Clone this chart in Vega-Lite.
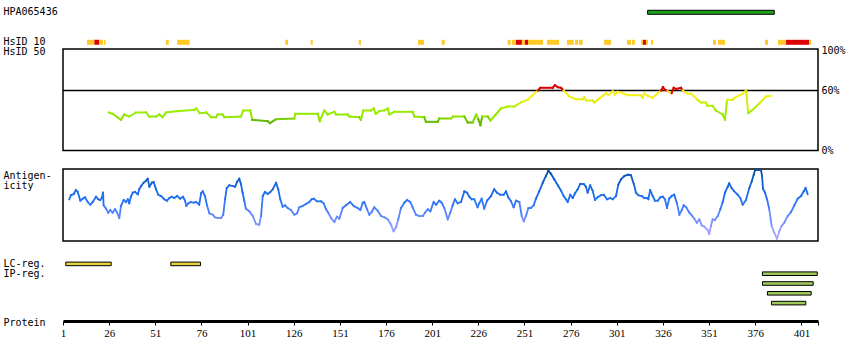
{
  "$schema": "https://vega.github.io/schema/vega-lite/v6.json",
  "padding": {"left": 2, "top": 2, "right": 5, "bottom": 5},
  "background": "white",
  "config": {
    "view": {"stroke": "black", "strokeWidth": 1.5},
    "axis": {"labelFont": "DejaVu Sans Mono", "titleFont": "DejaVu Sans Mono", "labelFontSize": 10, "titleFontSize": 10, "titleFontWeight": "normal", "labelColor": "black", "titleColor": "black", "grid": false}
  },
  "bounds": "flush",
  "spacing": 0,
  "vconcat": [
    {
      "width": 755,
      "height": 46.5,
      "view": {"stroke": null},
      "data": {"values": [
        {"lane": "HPA065436", "kind": "HPA", "start": 317.7, "end": 386.3},
        {"lane": "HsID 10", "kind": "low", "start": 14.0, "end": 18.0},
        {"lane": "HsID 10", "kind": "high", "start": 18.0, "end": 20.5},
        {"lane": "HsID 10", "kind": "low", "start": 20.5, "end": 22.7},
        {"lane": "HsID 10", "kind": "low", "start": 23.2, "end": 24.1},
        {"lane": "HsID 10", "kind": "low", "start": 56.8, "end": 58.3},
        {"lane": "HsID 10", "kind": "low", "start": 62.8, "end": 69.6},
        {"lane": "HsID 10", "kind": "low", "start": 121.4, "end": 122.9},
        {"lane": "HsID 10", "kind": "low", "start": 135.2, "end": 136.3},
        {"lane": "HsID 10", "kind": "low", "start": 161.2, "end": 162.4},
        {"lane": "HsID 10", "kind": "low", "start": 193.3, "end": 196.6},
        {"lane": "HsID 10", "kind": "low", "start": 206.1, "end": 207.8},
        {"lane": "HsID 10", "kind": "low", "start": 241.9, "end": 243.5},
        {"lane": "HsID 10", "kind": "low", "start": 244.2, "end": 246.4},
        {"lane": "HsID 10", "kind": "high", "start": 246.4, "end": 249.6},
        {"lane": "HsID 10", "kind": "low", "start": 249.6, "end": 251.2},
        {"lane": "HsID 10", "kind": "high", "start": 251.2, "end": 252.9},
        {"lane": "HsID 10", "kind": "low", "start": 252.9, "end": 261.0},
        {"lane": "HsID 10", "kind": "low", "start": 263.2, "end": 269.7},
        {"lane": "HsID 10", "kind": "low", "start": 274.0, "end": 277.7},
        {"lane": "HsID 10", "kind": "low", "start": 278.4, "end": 280.0},
        {"lane": "HsID 10", "kind": "low", "start": 280.5, "end": 282.5},
        {"lane": "HsID 10", "kind": "low", "start": 294.1, "end": 297.9},
        {"lane": "HsID 10", "kind": "low", "start": 306.5, "end": 308.7},
        {"lane": "HsID 10", "kind": "low", "start": 309.2, "end": 310.8},
        {"lane": "HsID 10", "kind": "low", "start": 314.1, "end": 315.2},
        {"lane": "HsID 10", "kind": "high", "start": 315.2, "end": 316.8},
        {"lane": "HsID 10", "kind": "low", "start": 316.8, "end": 317.9},
        {"lane": "HsID 10", "kind": "low", "start": 319.5, "end": 320.6},
        {"lane": "HsID 10", "kind": "low", "start": 353.1, "end": 354.7},
        {"lane": "HsID 10", "kind": "low", "start": 355.8, "end": 359.6},
        {"lane": "HsID 10", "kind": "low", "start": 381.3, "end": 382.9},
        {"lane": "HsID 10", "kind": "low", "start": 388.3, "end": 392.7},
        {"lane": "HsID 10", "kind": "high", "start": 392.7, "end": 405.2},
        {"lane": "HsID 10", "kind": "low", "start": 405.2, "end": 406.2}
      ]},
      "encoding": {
        "x": {"field": "start", "type": "quantitative", "scale": {"domain": [1, 410], "nice": false, "zero": false}, "axis": null},
        "x2": {"field": "end"},
        "y": {"field": "lane", "type": "nominal", "sort": null,
              "scale": {"domain": ["HPA065436", "HsID 10"], "paddingInner": 0.6, "paddingOuter": 0.075, "align": 0.956, "round": false},
              "axis": {"title": null, "orient": "left", "ticks": false, "tickSize": 0, "domain": false, "labelAlign": "left", "labelPadding": 60, "labelBaseline": "middle"}}
      },
      "layer": [
        {
          "transform": [{"filter": "datum.kind == 'HPA'"}],
          "mark": {"type": "bar", "height": 4, "stroke": "black", "strokeWidth": 1, "fill": "#1aa31a"}
        },
        {
          "transform": [{"filter": "datum.kind != 'HPA'"}],
          "mark": {"type": "bar", "height": 5},
          "encoding": {
            "color": {"field": "kind", "type": "nominal", "scale": {"domain": ["low", "high"], "range": ["#ffc926", "#dd0000"]}, "legend": null}
          }
        }
      ]
    },
    {
      "width": 755,
      "height": 101.5,
      "resolve": {"axis": {"y": "independent"}},
      "layer": [
        {
          "data": {"values": [{}]},
          "mark": {"type": "rule", "color": "black", "strokeWidth": 1.3},
          "encoding": {
            "y": {"datum": 60, "type": "quantitative", "scale": {"domain": [0, 101.5], "nice": false, "zero": false},
                  "axis": {"orient": "right", "values": [0, 60, 100], "labelExpr": "datum.value + '%'", "ticks": false, "tickSize": 0, "domain": false, "labelPadding": 3, "title": null, "labelBaseline": "middle", "labelFlush": false, "labelOverlap": false}}
          }
        },
        {
          "data": {"values": [
            {"r":25.8,"v":38},{"r":27.9,"v":36.7},{"r":32.4,"v":30.7},{"r":34.2,"v":36},{"r":36.9,"v":34},{"r":40.5,"v":38},{"r":46.0,"v":38},{"r":47.7,"v":34},{"r":51.4,"v":34},{"r":53.2,"v":36},{"r":55.0,"v":33.3},{"r":56.8,"v":38},{"r":63.1,"v":39.3},{"r":72.1,"v":40.7},{"r":73.2,"v":42},{"r":75.1,"v":37.3},{"r":78.6,"v":38},{"r":81.2,"v":33.3},{"r":83.9,"v":33.3},{"r":84.8,"v":36},{"r":87.5,"v":36},{"r":88.4,"v":33.3},{"r":97.4,"v":34},{"r":98.7,"v":40},{"r":102.5,"v":40},{"r":103.5,"v":30.7},{"r":111.9,"v":29.3},{"r":113.1,"v":27.3},{"r":116.4,"v":31.3},{"r":126.3,"v":32},{"r":126.8,"v":36.7},{"r":139.0,"v":36.7},{"r":140.1,"v":29.3},{"r":142.5,"v":40},{"r":144.4,"v":36},{"r":148.0,"v":38.7},{"r":148.9,"v":36},{"r":155.2,"v":36},{"r":156.1,"v":34},{"r":161.5,"v":33.3},{"r":162.4,"v":30.7},{"r":163.7,"v":40},{"r":167.8,"v":40},{"r":169.3,"v":42},{"r":170.4,"v":36.7},{"r":172.3,"v":39.3},{"r":175.1,"v":40},{"r":176.9,"v":42},{"r":177.8,"v":36},{"r":180.5,"v":38.7},{"r":190.4,"v":38.7},{"r":191.3,"v":34},{"r":196.7,"v":33.3},{"r":197.6,"v":28.7},{"r":204.0,"v":28.7},{"r":204.8,"v":32},{"r":211.2,"v":32},{"r":212.3,"v":34},{"r":218.4,"v":34},{"r":220.2,"v":28},{"r":222.9,"v":28},{"r":224.9,"v":36},{"r":226.0,"v":31.3},{"r":227.1,"v":25.3},{"r":228.1,"v":34},{"r":231.1,"v":34},{"r":232.5,"v":30},{"r":238.3,"v":42},{"r":241.9,"v":44},{"r":245.5,"v":44},{"r":247.3,"v":46},{"r":249.1,"v":48},{"r":252.7,"v":50.7},{"r":258.2,"v":60},{"r":259.6,"v":62.7},{"r":266.3,"v":62.7},{"r":267.5,"v":65.3},{"r":269.0,"v":63.3},{"r":270.8,"v":62.7},{"r":272.2,"v":60},{"r":275.3,"v":54},{"r":278.9,"v":51.3},{"r":282.5,"v":51.3},{"r":283.4,"v":53.3},{"r":284.3,"v":50},{"r":287.9,"v":50},{"r":288.8,"v":48},{"r":291.5,"v":52},{"r":295.2,"v":57.3},{"r":296.6,"v":55.3},{"r":298.8,"v":59.3},{"r":300.0,"v":56},{"r":301.5,"v":58.7},{"r":304.2,"v":57.3},{"r":306.9,"v":55.3},{"r":314.1,"v":55.3},{"r":315.0,"v":52.7},{"r":315.9,"v":57.3},{"r":317.7,"v":54.7},{"r":320.4,"v":52.7},{"r":324.9,"v":60},{"r":326.0,"v":63.3},{"r":327.1,"v":60.7},{"r":328.6,"v":59.3},{"r":330.7,"v":57.3},{"r":331.8,"v":62.7},{"r":333.1,"v":61.5},{"r":335.8,"v":62.7},{"r":336.7,"v":60},{"r":339.4,"v":56.7},{"r":341.2,"v":56.7},{"r":344.8,"v":50.7},{"r":346.6,"v":48},{"r":349.3,"v":48},{"r":350.2,"v":44.7},{"r":352.9,"v":44.7},{"r":354.7,"v":40},{"r":358.4,"v":36},{"r":359.6,"v":30.7},{"r":360.7,"v":50},{"r":361.1,"v":50.7},{"r":363.8,"v":50.7},{"r":364.7,"v":52.7},{"r":369.2,"v":56.7},{"r":371.0,"v":60},{"r":372.2,"v":37.3},{"r":374.6,"v":40.7},{"r":379.1,"v":48.7},{"r":381.8,"v":54},{"r":384.2,"v":54.7}
          ]},
          "transform": [
            {"window": [{"op": "lag", "field": "r", "as": "pr"}, {"op": "lag", "field": "v", "as": "pv"}, {"op": "mean", "field": "v", "as": "m"}], "frame": [-1, 0], "sort": [{"field": "r"}]},
            {"filter": "datum.pr != null"}
          ],
          "mark": {"type": "rule", "strokeWidth": 2, "strokeCap": "square"},
          "encoding": {
            "x": {"field": "pr", "type": "quantitative", "scale": {"domain": [1, 410], "nice": false, "zero": false}, "axis": null},
            "x2": {"field": "r"},
            "y": {"field": "pv", "type": "quantitative", "scale": {"domain": [0, 101.5], "nice": false, "zero": false},
                  "axis": {"orient": "left", "labels": false, "ticks": false, "domain": false, "title": "HsID 50", "titleAngle": 0, "titleAlign": "left", "titleBaseline": "middle", "titleX": -60, "titleY": 2.7}},
            "y2": {"field": "v"},
            "color": {"field": "m", "type": "quantitative", "legend": null,
                      "scale": {"domain": [25, 30.5, 33, 40, 46, 52, 59.95, 60, 100], "range": ["#5cb000", "#66bb00", "#92e600", "#99ee00", "#bfee00", "#eeee11", "#ffee22", "#dd0000", "#dd0000"], "interpolate": "rgb"}}
          }
        }
      ]
    },
    {
      "width": 755,
      "height": 18,
      "view": {"stroke": null},
      "data": {"values": []},
      "mark": "point",
      "encoding": {}
    },
    {
      "width": 755,
      "height": 72,
      "data": {"values": [
        {"r":4.4,"a":41.7},{"r":5.3,"a":45.7},{"r":6.8,"a":47},{"r":8.0,"a":51},{"r":9.0,"a":49},{"r":10.4,"a":40.3},{"r":11.7,"a":42.3},{"r":12.9,"a":43.7},{"r":14.4,"a":39},{"r":15.8,"a":36.3},{"r":17.1,"a":39},{"r":18.9,"a":44.3},{"r":20.1,"a":41.7},{"r":21.2,"a":41},{"r":22.0,"a":43},{"r":22.7,"a":48.3},{"r":23.0,"a":35.7},{"r":24.3,"a":32.3},{"r":25.5,"a":28.3},{"r":26.6,"a":31},{"r":27.9,"a":28.3},{"r":29.2,"a":31.7},{"r":30.3,"a":28.3},{"r":31.5,"a":23},{"r":32.4,"a":35},{"r":33.9,"a":41},{"r":35.1,"a":39},{"r":36.1,"a":41.7},{"r":36.9,"a":37.7},{"r":37.8,"a":44.3},{"r":38.8,"a":48.3},{"r":40.0,"a":49},{"r":41.5,"a":46.7},{"r":42.3,"a":51.7},{"r":43.3,"a":55},{"r":44.7,"a":58.3},{"r":46.0,"a":60.3},{"r":46.9,"a":62.3},{"r":47.8,"a":54.3},{"r":49.1,"a":58.3},{"r":50.1,"a":59},{"r":51.4,"a":51.7},{"r":52.6,"a":46.3},{"r":54.1,"a":45},{"r":55.9,"a":41.7},{"r":57.3,"a":40.3},{"r":58.6,"a":43},{"r":59.9,"a":44.3},{"r":61.3,"a":43},{"r":62.8,"a":45},{"r":64.5,"a":42.3},{"r":66.0,"a":44.3},{"r":67.1,"a":40.3},{"r":67.8,"a":35},{"r":68.9,"a":37.7},{"r":70.3,"a":39},{"r":71.8,"a":38.3},{"r":73.0,"a":39},{"r":74.0,"a":37.7},{"r":74.8,"a":36.3},{"r":75.8,"a":47.7},{"r":76.7,"a":49.7},{"r":77.9,"a":45},{"r":79.0,"a":35.7},{"r":80.3,"a":27.7},{"r":82.1,"a":26.3},{"r":83.3,"a":23.7},{"r":84.8,"a":23},{"r":86.6,"a":23},{"r":87.8,"a":26.3},{"r":88.8,"a":41.7},{"r":89.7,"a":53},{"r":91.1,"a":55.7},{"r":92.9,"a":55},{"r":94.2,"a":54.3},{"r":95.3,"a":59},{"r":96.5,"a":62.3},{"r":97.4,"a":57},{"r":98.3,"a":48.3},{"r":99.2,"a":40.3},{"r":100.1,"a":32.3},{"r":101.9,"a":29.7},{"r":103.8,"a":25},{"r":105.6,"a":17},{"r":107.3,"a":16.3},{"r":108.3,"a":25},{"r":109.2,"a":45},{"r":110.4,"a":49},{"r":111.9,"a":47},{"r":113.3,"a":49},{"r":114.6,"a":51.7},{"r":116.4,"a":58.3},{"r":117.6,"a":51.7},{"r":118.7,"a":41.7},{"r":120.0,"a":34.3},{"r":121.3,"a":35.7},{"r":122.7,"a":33},{"r":124.5,"a":31},{"r":126.3,"a":26.3},{"r":127.8,"a":27.7},{"r":129.0,"a":33.7},{"r":130.8,"a":35},{"r":132.6,"a":37},{"r":134.4,"a":39},{"r":135.7,"a":41.7},{"r":136.8,"a":42.3},{"r":138.6,"a":39.7},{"r":140.8,"a":39.7},{"r":142.2,"a":37.7},{"r":143.5,"a":31.7},{"r":144.7,"a":28.3},{"r":146.2,"a":23},{"r":148.0,"a":19},{"r":149.4,"a":24.3},{"r":150.7,"a":22.3},{"r":152.5,"a":33},{"r":154.3,"a":35.7},{"r":156.6,"a":39},{"r":158.5,"a":35},{"r":160.6,"a":33},{"r":162.1,"a":31},{"r":163.4,"a":38.3},{"r":164.2,"a":39},{"r":165.7,"a":31.7},{"r":166.9,"a":26.3},{"r":168.2,"a":29},{"r":169.6,"a":33.7},{"r":171.5,"a":30.3},{"r":173.3,"a":25},{"r":175.1,"a":23.7},{"r":176.9,"a":21.7},{"r":178.7,"a":16.3},{"r":180.1,"a":9.7},{"r":181.4,"a":13.7},{"r":182.6,"a":21.7},{"r":184.1,"a":33},{"r":185.9,"a":38.3},{"r":187.4,"a":41},{"r":189.1,"a":39},{"r":190.4,"a":33.7},{"r":192.2,"a":26.3},{"r":194.0,"a":25},{"r":195.9,"a":25},{"r":197.1,"a":28.3},{"r":198.6,"a":31.7},{"r":200.0,"a":29.7},{"r":201.8,"a":39},{"r":203.1,"a":36.3},{"r":204.8,"a":40.3},{"r":206.1,"a":38.3},{"r":207.6,"a":33},{"r":209.4,"a":21.7},{"r":210.8,"a":28.3},{"r":212.1,"a":35.7},{"r":213.3,"a":41.7},{"r":214.8,"a":37.7},{"r":216.6,"a":39},{"r":218.4,"a":49.7},{"r":219.9,"a":48.3},{"r":221.1,"a":44.3},{"r":222.4,"a":41.7},{"r":223.8,"a":41.7},{"r":225.6,"a":33.7},{"r":226.5,"a":37.7},{"r":227.8,"a":42.3},{"r":229.2,"a":32.3},{"r":230.7,"a":40.3},{"r":232.9,"a":45},{"r":234.6,"a":51.7},{"r":236.1,"a":48.3},{"r":237.9,"a":46.3},{"r":239.7,"a":46.3},{"r":241.0,"a":49.7},{"r":242.2,"a":43.7},{"r":243.7,"a":39.7},{"r":245.1,"a":33.7},{"r":246.4,"a":40.3},{"r":248.2,"a":39},{"r":249.5,"a":25},{"r":250.6,"a":19.7},{"r":251.8,"a":25},{"r":253.1,"a":33},{"r":254.5,"a":33},{"r":256.0,"a":35.7},{"r":257.2,"a":42.3},{"r":259.0,"a":49.7},{"r":260.9,"a":58.3},{"r":262.6,"a":65},{"r":263.9,"a":70.3},{"r":265.4,"a":67},{"r":267.1,"a":61.7},{"r":269.3,"a":55},{"r":270.8,"a":50.3},{"r":272.2,"a":45},{"r":273.5,"a":41.7},{"r":274.4,"a":39},{"r":275.8,"a":46.3},{"r":277.1,"a":43},{"r":278.4,"a":47.7},{"r":279.8,"a":51.7},{"r":281.2,"a":57},{"r":283.1,"a":57},{"r":284.3,"a":54.3},{"r":285.2,"a":48.3},{"r":286.6,"a":55.7},{"r":287.9,"a":50.3},{"r":289.2,"a":41},{"r":290.6,"a":43.7},{"r":292.4,"a":45.7},{"r":293.9,"a":46.3},{"r":295.7,"a":41.7},{"r":297.5,"a":43},{"r":298.8,"a":41.7},{"r":300.6,"a":45},{"r":301.8,"a":56.3},{"r":303.3,"a":61.7},{"r":305.1,"a":65},{"r":306.9,"a":66.3},{"r":308.7,"a":65.7},{"r":310.2,"a":57},{"r":311.4,"a":48.3},{"r":312.7,"a":45.7},{"r":314.5,"a":45},{"r":315.9,"a":43},{"r":317.4,"a":43},{"r":318.1,"a":41.7},{"r":319.1,"a":51},{"r":320.4,"a":45},{"r":321.7,"a":40.3},{"r":323.2,"a":40.3},{"r":324.6,"a":43.7},{"r":325.9,"a":44.3},{"r":327.1,"a":41.7},{"r":328.2,"a":33},{"r":329.4,"a":42.3},{"r":330.7,"a":45},{"r":332.1,"a":46.3},{"r":333.6,"a":37.7},{"r":334.9,"a":26.3},{"r":336.2,"a":31},{"r":337.2,"a":35.7},{"r":338.6,"a":33.7},{"r":340.3,"a":28.3},{"r":341.6,"a":25.7},{"r":343.0,"a":22.3},{"r":344.4,"a":18.3},{"r":345.7,"a":21.7},{"r":347.0,"a":15.7},{"r":348.4,"a":14.3},{"r":350.2,"a":11},{"r":351.1,"a":7},{"r":352.0,"a":15},{"r":352.9,"a":21.7},{"r":354.1,"a":21},{"r":355.7,"a":25},{"r":357.1,"a":31.7},{"r":358.4,"a":39},{"r":359.6,"a":48.3},{"r":361.1,"a":54.3},{"r":361.9,"a":57.7},{"r":363.2,"a":53},{"r":364.6,"a":49.7},{"r":366.5,"a":46.3},{"r":367.9,"a":43},{"r":369.2,"a":36.3},{"r":371.0,"a":41},{"r":372.8,"a":53},{"r":374.1,"a":59.7},{"r":375.2,"a":66.3},{"r":375.9,"a":71},{"r":379.1,"a":71},{"r":379.7,"a":65},{"r":380.2,"a":52.3},{"r":381.3,"a":48.3},{"r":382.4,"a":41.7},{"r":383.6,"a":31.7},{"r":384.9,"a":15},{"r":386.3,"a":8.3},{"r":387.8,"a":2.3},{"r":389.0,"a":9.7},{"r":390.3,"a":15},{"r":391.7,"a":18.3},{"r":393.6,"a":25},{"r":395.4,"a":29},{"r":397.2,"a":35.7},{"r":399.0,"a":42.3},{"r":400.8,"a":45},{"r":402.3,"a":49.7},{"r":403.3,"a":53},{"r":404.4,"a":47}
      ]},
      "transform": [
        {"window": [{"op": "lag", "field": "r", "as": "pr"}, {"op": "lag", "field": "a", "as": "pa"}, {"op": "mean", "field": "a", "as": "m"}], "frame": [-1, 0], "sort": [{"field": "r"}]},
        {"filter": "datum.pr != null"}
      ],
      "mark": {"type": "rule", "strokeWidth": 1.8, "strokeCap": "square"},
      "encoding": {
        "x": {"field": "pr", "type": "quantitative", "scale": {"domain": [1, 410], "nice": false, "zero": false}, "axis": null},
        "x2": {"field": "r"},
        "y": {"field": "pa", "type": "quantitative", "scale": {"domain": [0, 72], "nice": false, "zero": false},
              "axis": {"orient": "left", "labels": false, "ticks": false, "domain": false, "title": ["Antigen-", "icity"], "titleAngle": 0, "titleAlign": "left", "titleBaseline": "top", "titleLineHeight": 10, "titleX": -60, "titleY": 1}},
        "y2": {"field": "a"},
        "color": {"field": "m", "type": "quantitative", "legend": null,
                  "scale": {"domain": [0, 10, 20, 30, 42, 55, 65, 72], "range": ["#b0a8ff", "#a0a0ff", "#7890ff", "#4d80ff", "#1f6ff2", "#1866e0", "#0a55b8", "#004a9c"], "interpolate": "rgb"}}
      }
    },
    {
      "width": 755,
      "height": 18,
      "view": {"stroke": null},
      "data": {"values": []},
      "mark": "point",
      "encoding": {}
    },
    {
      "width": 755,
      "height": 49,
      "view": {"stroke": null},
      "data": {"values": [
        {"lane": "LC", "type": "LC", "s": 2.5, "e": 27.1},
        {"lane": "LC", "type": "LC", "s": 59.4, "e": 75.5},
        {"lane": "IP1", "type": "IP", "s": 379.9, "e": 409.6},
        {"lane": "IP2", "type": "IP", "s": 379.9, "e": 407.4},
        {"lane": "IP3", "type": "IP", "s": 382.6, "e": 406.3},
        {"lane": "IP4", "type": "IP", "s": 384.8, "e": 403.4}
      ]},
      "mark": {"type": "bar", "height": 3.6, "stroke": "black", "strokeWidth": 1},
      "encoding": {
        "x": {"field": "s", "type": "quantitative", "scale": {"domain": [1, 410], "nice": false, "zero": false},
              "axis": {"orient": "bottom", "offset": 13, "values": [1, 26, 51, 76, 101, 126, 151, 176, 201, 226, 251, 276, 301, 326, 351, 376, 401, 410], "format": "d", "labelExpr": "datum.value == 410 ? '' : datum.label", "domainWidth": 3, "domainColor": "black", "tickColor": "black", "tickSize": 4, "tickWidth": 1, "labelFont": "Liberation Sans Narrow", "labelFontSize": 11, "labelPadding": 2, "labelFlush": false, "labelOverlap": false, "title": "Protein", "titleX": -60, "titleY": 1, "titleAlign": "left", "titleBaseline": "middle", "titleAngle": 0}},
        "x2": {"field": "e"},
        "y": {"field": "lane", "type": "nominal", "sort": null,
              "scale": {"domain": ["LC", "IP1", "IP2", "IP3", "IP4"], "paddingInner": 0, "paddingOuter": 0, "round": false},
              "axis": {"title": null, "ticks": false, "tickSize": 0, "domain": false, "labelAlign": "left", "labelPadding": 60, "labelBaseline": "middle", "labelExpr": "datum.value == 'LC' ? 'LC-reg.' : datum.value == 'IP1' ? 'IP-reg.' : ''"}},
        "fill": {"field": "type", "type": "nominal", "scale": {"domain": ["LC", "IP"], "range": ["#e6d33c", "#9dc858"]}, "legend": null}
      }
    }
  ]
}
